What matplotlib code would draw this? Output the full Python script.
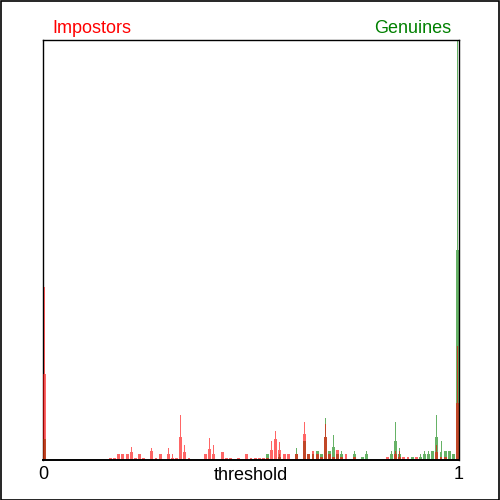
import matplotlib
matplotlib.use("Agg")
import matplotlib.pyplot as plt
import numpy as np
from matplotlib.patches import Rectangle

# score histograms, one bin per 0.01 of threshold; body height plus a thin peak
imp_bins = [0, 16, 17, 18, 19, 20, 21, 22, 23, 24, 26, 27, 28, 30, 31, 32, 33, 34, 35,
            39, 40, 41, 43, 44, 45, 47, 49, 50, 51, 52, 53, 54, 55, 56, 57, 58, 59, 61,
            63, 64, 65, 66, 67, 68, 69, 70, 71, 72, 73, 75, 83, 85, 86, 87, 88, 90, 95,
            96, 97, 100]
imp_body = [86, 2, 2, 6, 6, 6, 8, 2, 6, 2, 9, 2, 6, 6, 2, 2, 23, 8, 2,
            6, 11, 6, 8, 2, 2, 2, 6, 2, 2, 2, 2, 2, 10, 21, 10, 6, 6, 6,
            26, 6, 9, 6, 3, 23, 6, 3, 10, 3, 6, 3, 3, 6, 3, 3, 3, 3, 8,
            3, 3, 57]
imp_peak = [173, 2, 2, 6, 6, 6, 13, 2, 6, 2, 12, 2, 6, 12, 6, 2, 45, 15, 2,
            6, 22, 15, 8, 2, 2, 2, 6, 2, 2, 2, 2, 2, 19, 29, 18, 6, 6, 6,
            38, 6, 9, 6, 3, 36, 6, 3, 10, 3, 6, 3, 3, 9, 9, 3, 3, 3, 15,
            3, 3, 114]

gen_bins = [0, 54, 57, 61, 63, 64, 65, 66, 67, 68, 69, 70, 71, 72, 75, 77, 78, 84, 85,
            86, 89, 91, 92, 93, 94, 95, 96, 97, 98, 99, 100]
gen_body = [21, 6, 3, 6, 19, 6, 6, 9, 6, 23, 9, 13, 6, 6, 6, 3, 6, 6, 19,
            6, 3, 3, 6, 6, 9, 23, 8, 9, 9, 6, 210]
gen_peak = [21, 6, 6, 12, 19, 6, 6, 9, 6, 42, 9, 25, 6, 9, 9, 3, 9, 9, 38,
            12, 3, 6, 9, 9, 9, 45, 19, 9, 9, 6, 600]

RED = "#ff0000"
GREEN = "#008000"
BAR_W = 0.007


def draw_hist(axis, bins, body, peak, color):
    # keep the end bins inside [0, 1]
    x = np.asarray(bins) / 100.0 * (1 - BAR_W) + BAR_W / 2
    body = np.asarray(body, dtype=float)
    peak = np.asarray(peak, dtype=float)
    axis.bar(x, body, width=BAR_W, color=color, alpha=0.6, linewidth=0)
    extra = peak - body
    mask = extra > 0
    axis.bar(x[mask], extra[mask], bottom=body[mask], width=0.0025,
             color=color, alpha=0.6, linewidth=0)


plt.rcParams["font.family"] = ["Liberation Sans", "DejaVu Sans"]

fig = plt.figure(figsize=(5, 5), dpi=100)
ax = fig.add_axes([43 / 500, 40 / 500, 416 / 500, 420 / 500])

draw_hist(ax, gen_bins, gen_body, gen_peak, GREEN)
draw_hist(ax, imp_bins, imp_body, imp_peak, RED)

ax.set_xlim(0, 1)
ax.set_ylim(0, 420)
ax.set_yticks([])
ax.set_xticks([0, 1])
ax.set_xticklabels(["0", "1"], fontsize=13)
ax.tick_params(axis="x", length=0, pad=4.5)
ax.set_xlabel("threshold", fontsize=13)
ax.xaxis.set_label_coords(0.5, -0.016)
ax.xaxis.label.set_va("top")
for spine in ax.spines.values():
    spine.set_linewidth(1.0)
ax.spines["left"].set_zorder(0.5)
ax.spines["bottom"].set_linewidth(1.4)

fig.text(52 / 500, 1 - 33 / 500, "Impostors", color=RED, fontsize=13,
         ha="left", va="baseline")
fig.text(451 / 500, 1 - 33 / 500, "Genuines", color=GREEN, fontsize=13,
         ha="right", va="baseline")

fig.patches.append(Rectangle((0.001, 0.001), 0.997, 0.997, transform=fig.transFigure,
                             fill=False, edgecolor="black", linewidth=1.2))

fig.savefig("out.png", dpi=100)
